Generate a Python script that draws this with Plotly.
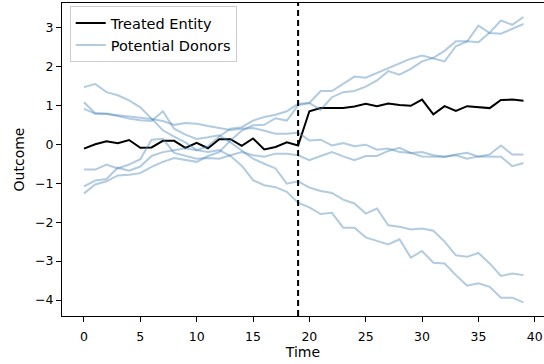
import plotly.graph_objects as go

# Time index and intervention point
time = list(range(40))
intervention = 19

# Outcome of the treated unit
treated = [-0.11, 0.00, 0.08, 0.03, 0.11, -0.09, -0.08, 0.09, 0.09, -0.09,
           0.04, -0.10, 0.13, 0.13, -0.04, 0.15, -0.13, -0.07, 0.05, -0.03,
           0.85, 0.93, 0.93, 0.93, 0.97, 1.04, 0.98, 1.05, 1.01, 0.99,
           1.15, 0.77, 0.98, 0.86, 0.98, 0.96, 0.93, 1.14, 1.15, 1.12]

# Outcomes of the untreated units in the donor pool
donor_1 = [1.47, 1.55, 1.34, 1.26, 1.13, 0.95, 0.66, 0.36, 0.20, 0.05,
           -0.15, -0.20, -0.15, -0.30, -0.55, -0.92, -1.05, -1.10, -1.22, -1.50,
           -1.62, -1.79, -1.76, -2.14, -2.14, -2.39, -2.48, -2.57, -2.44, -2.91,
           -2.74, -3.04, -3.06, -3.36, -3.63, -3.57, -3.66, -3.94, -3.94, -4.06]
donor_2 = [1.08, 0.79, 0.79, 0.72, 0.66, 0.62, 0.60, 0.85, 0.40, 0.25,
           0.14, 0.18, 0.23, 0.05, -0.15, -0.37, -0.50, -0.62, -1.01, -0.95,
           -1.11, -1.20, -1.25, -1.42, -1.52, -1.78, -1.65, -2.08, -2.12, -2.19,
           -2.16, -2.22, -2.50, -2.85, -2.89, -2.79, -3.06, -3.38, -3.32, -3.36]
donor_3 = [0.91, 0.79, 0.78, 0.75, 0.72, 0.68, 0.65, 0.60, 0.50, 0.55,
           0.53, 0.47, 0.42, 0.37, 0.40, 0.42, 0.35, 0.27, 0.27, 0.30,
           0.10, 0.12, -0.03, 0.03, -0.05, -0.01, -0.14, -0.11, -0.20, -0.22,
           -0.31, -0.32, -0.32, -0.28, -0.37, -0.31, -0.32, -0.32, -0.56, -0.48]
donor_4 = [-0.65, -0.65, -0.52, -0.62, -0.52, -0.38, 0.12, 0.14, -0.22, -0.30,
           -0.37, -0.35, -0.37, -0.28, -0.20, -0.28, -0.32, -0.24, -0.24, -0.28,
           -0.41, -0.30, -0.20, -0.31, -0.41, -0.30, -0.30, -0.17, -0.09, -0.22,
           -0.20, -0.28, -0.32, -0.26, -0.22, -0.32, -0.26, -0.03, -0.26, -0.26]
donor_5 = [-1.08, -0.93, -0.89, -0.60, -0.68, -0.57, -0.30, -0.20, -0.15, -0.10,
           -0.15, -0.05, 0.20, 0.40, 0.44, 0.61, 0.70, 0.76, 0.85, 1.04,
           1.06, 1.37, 1.37, 1.56, 1.74, 1.71, 1.83, 1.94, 2.07, 2.20,
           2.28, 2.20, 2.13, 2.52, 2.64, 3.05, 2.86, 2.84, 2.97, 3.09]
donor_6 = [-1.26, -1.03, -0.95, -0.80, -0.78, -0.74, -0.58, -0.45, -0.35, -0.40,
           -0.45, -0.30, -0.20, 0.10, 0.35, 0.49, 0.50, 0.67, 0.61, 1.00,
           1.06, 0.89, 1.21, 1.34, 1.37, 1.48, 1.64, 1.88, 1.79, 1.94,
           2.13, 2.22, 2.40, 2.65, 2.65, 2.62, 2.87, 3.18, 3.07, 3.27]
donors = [donor_1, donor_2, donor_3, donor_4, donor_5, donor_6]

x_ticks = [0, 5, 10, 15, 20, 25, 30, 35, 40]
y_ticks = [-4, -3, -2, -1, 0, 1, 2, 3]

FONT = "DejaVu Sans"
DONOR_COLOR = "rgba(70,130,180,0.42)"
TICK_SIZE = 12.5
LABEL_SIZE = 14
LEGEND_SIZE = 14.5

fig = go.Figure()

fig.add_trace(go.Scatter(
    x=time, y=treated, mode="lines", name="Treated Entity",
    line=dict(color="black", width=2),
))
for i, d in enumerate(donors):
    fig.add_trace(go.Scatter(
        x=time, y=d, mode="lines", name="Potential Donors",
        line=dict(color=DONOR_COLOR, width=2),
        showlegend=(i == 0), legendgroup="donors",
    ))

# Intervention marker
fig.add_shape(type="line", xref="x", yref="paper",
              x0=intervention, x1=intervention, y0=0, y1=1,
              line=dict(color="black", width=2, dash="6px,4px"))

axis_common = dict(
    showgrid=False, zeroline=False, showline=True, linecolor="black",
    linewidth=1, ticks="outside", ticklen=5, tickwidth=1, tickcolor="black",
    tickfont=dict(family=FONT, size=TICK_SIZE, color="black"),
)

fig.update_xaxes(
    range=[-1.95, 40.82], tickvals=x_ticks, mirror=True, ticklabelstandoff=4,
    title=dict(text="Time", font=dict(family=FONT, size=LABEL_SIZE, color="black"),
               standoff=3),
    **axis_common,
)
fig.update_yaxes(
    range=[-4.41, 3.63], tickvals=y_ticks,
    title=dict(text="Outcome", font=dict(family=FONT, size=LABEL_SIZE, color="black"),
               standoff=7),
    **axis_common,
)

fig.update_layout(
    width=544, height=364,
    margin=dict(l=62, r=0, t=3, b=48),
    plot_bgcolor="white", paper_bgcolor="white",
    font=dict(family=FONT, size=LABEL_SIZE, color="black"),
    legend=dict(
        x=0.016, y=0.99, xanchor="left", yanchor="top",
        bgcolor="rgba(255,255,255,0.8)", bordercolor="#cccccc", borderwidth=1,
        font=dict(family=FONT, size=LEGEND_SIZE, color="black"),
        tracegroupgap=0, itemwidth=30,
    ),
)

fig.write_html("out.html")
